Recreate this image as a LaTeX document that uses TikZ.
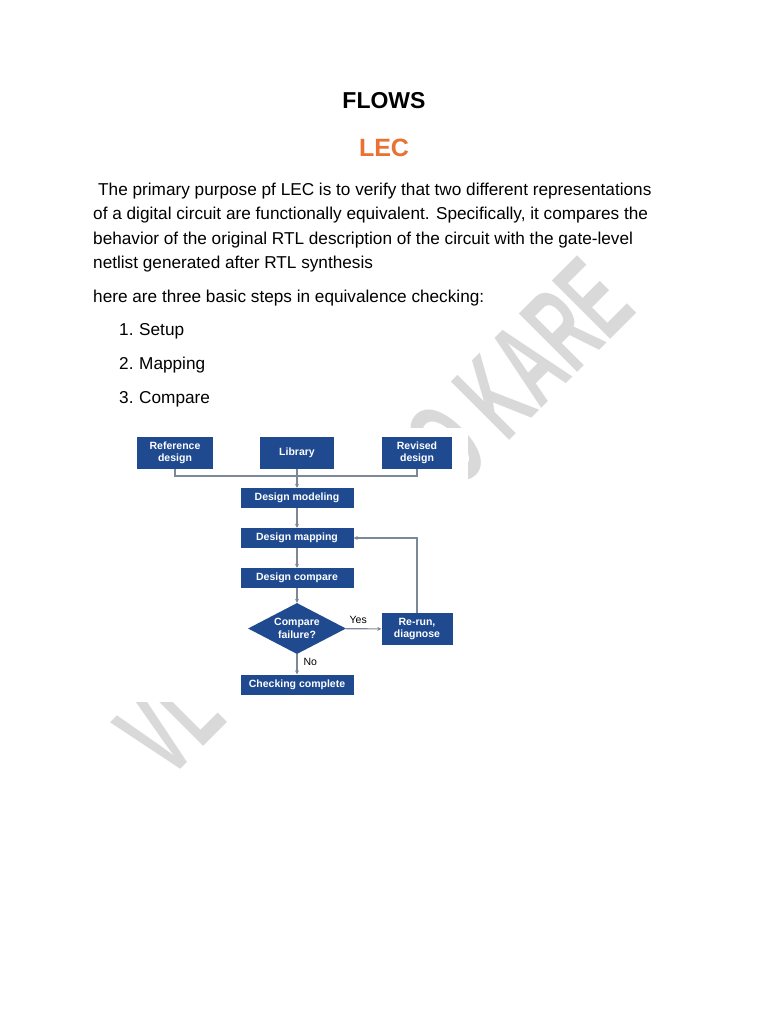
\documentclass[tikz,border=0pt]{standalone}
\usepackage{fontspec}
\setmainfont{Liberation Sans}
\usetikzlibrary{shapes.geometric,arrows.meta}

\definecolor{boxblue}{HTML}{1F4A8F}
\definecolor{linkgray}{HTML}{7D8897}
\definecolor{lecorange}{HTML}{E97132}
\definecolor{markgray}{HTML}{D9D9D9}

\begin{document}
\begin{tikzpicture}[x=1pt,y=-1pt,
    >={Stealth[length=4pt,width=4pt]},
    blk/.style={fill=boxblue,text=white,inner sep=0pt,align=center,
      font=\fontsize{10.5}{12.5}\selectfont\bfseries},
    widebox/.style={blk,minimum width=113,minimum height=20},
    srcbox/.style={blk,minimum height=32},
    link/.style={draw=linkgray,line width=1.1pt},
    body/.style={anchor=base west,inner sep=0pt,font=\fontsize{17.2}{20}\selectfont},
    small/.style={inner sep=0pt,font=\fontsize{10.5}{12}\selectfont},
    wmark/.style={transform shape,xscale=0.55,anchor=base west,inner sep=0pt,
      text=markgray,font=\fontsize{120}{120}\selectfont\bfseries}]
  \fill[white] (0,0) rectangle (768,1024);
  \useasboundingbox (0,0) rectangle (768,1024);

  % watermark behind everything
  \begin{scope}[shift={(475,475)},rotate=45]
    \node[wmark] (markvl) at (-433,0) {VL};
    \node[wmark] (marko) at (-25,0) {O};
    \node[wmark] (markkare) at (45,0) {KARE};
  \end{scope}
  \fill[white] (128,428) rectangle (468,702);

  % heading and text
  \node[font=\fontsize{23}{26}\selectfont\bfseries] (title) at (384,101) {FLOWS};
  \node[font=\fontsize{25}{28}\selectfont\bfseries,text=lecorange] (lec) at (384,148) {LEC};
  \node[body] (para1) at (98,196) {The primary purpose pf LEC is to verify that two different representations};
  \node[body] (para2) at (93,220) {of a digital circuit are functionally equivalent. Specifically, it compares the};
  \node[body] (para3) at (93,244) {behavior of the original RTL description of the circuit with the gate-level};
  \node[body] (para4) at (93,268) {netlist generated after RTL synthesis};
  \node[body] (intro) at (93,302) {here are three basic steps in equivalence checking:};
  \foreach \num/\word in {1/Setup,2/Mapping,3/Compare} {
    \node[body] (num\num) at (119,301+34*\num) {\num.};
    \node[body] (itm\num) at (139,301+34*\num) {\word};
  }

  % flow chart
  \node[srcbox,minimum width=76] (ref) at (175,453) {Reference\\design};
  \node[srcbox,minimum width=74] (lib) at (297,453) {Library};
  \node[srcbox,minimum width=70] (rev) at (417,453) {Revised\\design};
  \node[widebox] (model) at (297,498) {Design modeling};
  \node[widebox] (map) at (297,538) {Design mapping};
  \node[widebox] (cmp) at (297,578) {Design compare};
  \node[blk,diamond,aspect=1.92,minimum width=98,minimum height=51] (fail) at (297,628.5) {Compare\\failure?};
  \node[srcbox,minimum width=71] (rerun) at (417,629) {Re-run,\\diagnose};
  \node[widebox] (done) at (297,684.5) {Checking complete};

  \coordinate (merge) at (297,476);
  \draw[link] (ref.south) |- (merge) -| (rev.south);
  \draw[link,->] (lib) -- (model);
  \draw[link,->] (model) -- (map);
  \draw[link,->] (map) -- (cmp);
  \draw[link,->] (cmp) -- (fail);
  \draw[link,->] (fail) -- node[small,above=5pt,pos=0.35] (yes) {Yes} (rerun);
  \draw[link,->] (fail) -- node[small,right=6pt,pos=0.4] (no) {No} (done);
  \draw[link,->] (rerun.north) |- (map.east);
\end{tikzpicture}
\end{document}
